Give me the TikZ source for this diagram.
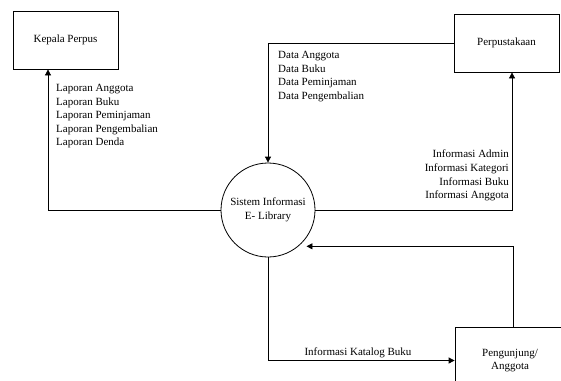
\documentclass[tikz,border=0pt]{standalone}
\usepackage{fontspec}
\setmainfont{Liberation Serif}
\usetikzlibrary{arrows.meta,positioning}

\tikzset{
  entity/.style={draw,thick,minimum width=105pt,minimum height=58pt,inner sep=0pt,align=center},
  process/.style={draw,thick,circle,minimum size=94pt,inner sep=0pt,align=center},
  flow/.style={thick,-{Triangle[length=6pt,width=6pt]}},
  lbl/.style={font=\fontsize{11}{13.6}\selectfont,inner sep=0pt}
}

\begin{document}
\begin{tikzpicture}[x=1pt,y=-1pt,font=\fontsize{11}{13.6}\selectfont]
  \useasboundingbox (0,0) rectangle (561,380);

  % external entities
  \node[entity] (kepala) at (65.5,40) {Kepala Perpus};
  \node[entity] (pus) at (506.5,43) {Perpustakaan};
  \node[entity,minimum width=110pt,minimum height=67pt] (tamu) at (510,360.5) {Pengunjung/\\Anggota};

  % process
  \node[process] (sys) at (268,210) {Sistem Informasi\\E- Library};

  % flows
  \draw[flow] (sys.west) -| ([xshift=-17.5pt]kepala.south);
  \draw[flow] (pus.west) -| (sys.north);
  \draw[flow] (sys.east) -| ([xshift=5.5pt]pus.south);
  \draw[flow,shorten >=8pt] ([xshift=3pt]tamu.north) |- (sys.-50);
  \draw[flow] (sys.south) |- (tamu.west);

  % flow labels
  \node[lbl,align=left,anchor=north west] (laporan) at (56,84)
    {Laporan Anggota\\Laporan Buku\\Laporan Peminjaman\\Laporan Pengembalian\\Laporan Denda};
  \node[lbl,align=left,anchor=north west] (data) at (278,51)
    {Data Anggota\\Data Buku\\Data Peminjaman\\Data Pengembalian};
  \node[lbl,align=right,anchor=north east] (info) at (509,150)
    {Informasi Admin\\Informasi Kategori\\Informasi Buku\\Informasi Anggota};
  \node[lbl] (katalog) at (358,353) {Informasi Katalog Buku};
\end{tikzpicture}
\end{document}
